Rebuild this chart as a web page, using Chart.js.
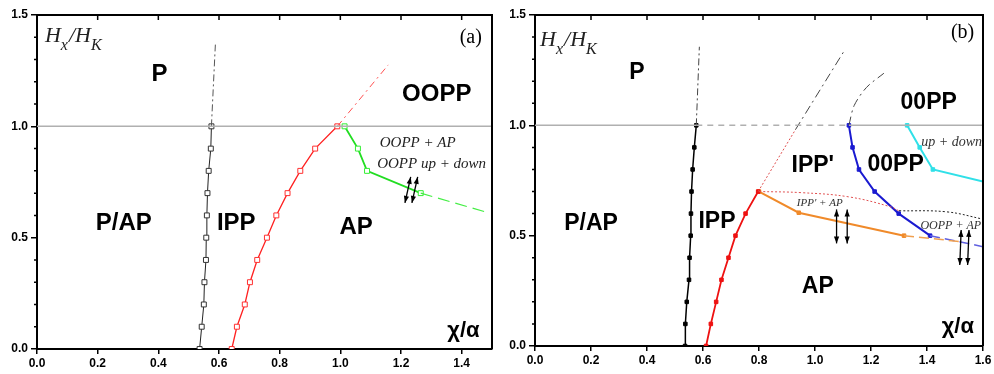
<!DOCTYPE html>
<html>
<head>
<meta charset="utf-8">
<script src="https://cdn.jsdelivr.net/npm/chart.js@4.4.1/dist/chart.umd.min.js"></script>
<style>
  body { margin: 0; background: #fff; }
  canvas { position: absolute; top: 0; }
</style>
</head>
<body>
<canvas id="chartA" width="497" height="374" style="left:0"></canvas>
<canvas id="chartB" width="497" height="374" style="left:497px"></canvas>
<script>
// tick labels
const xTicksA = [0, 0.2, 0.4, 0.6, 0.8, 1.0, 1.2, 1.4];
const xTicksB = [0, 0.2, 0.4, 0.6, 0.8, 1.0, 1.2, 1.4, 1.6];
const yTicks = [0, 0.5, 1.0, 1.5];

// field values H_x/H_K shared by the boundary lines
const hField = [0, 0.1, 0.2, 0.3, 0.4, 0.5, 0.6, 0.7, 0.8, 0.9, 1.0];

// panel (a)
const aBlackX = [0.536, 0.543, 0.550, 0.552, 0.557, 0.558, 0.560, 0.562, 0.566, 0.573, 0.575];
const aRedX = [0.642, 0.659, 0.685, 0.702, 0.726, 0.758, 0.789, 0.826, 0.868, 0.917, 0.990];
const aGreenX = [1.014, 1.058, 1.088, 1.265];
const aGreenY = [1.0, 0.9, 0.8, 0.7];
const aBlackExtX = [0.575, 0.588], aBlackExtY = [1.0, 1.367];
const aRedExtX = [0.990, 1.158], aRedExtY = [1.0, 1.276];
const aGreenExtX = [1.265, 1.48], aGreenExtY = [0.7, 0.615];
const aHorizX = [0, 1.5], aHorizY = [1, 1];

// panel (b)
const bBlackX = [0.536, 0.537, 0.542, 0.550, 0.552, 0.556, 0.557, 0.559, 0.563, 0.569, 0.576];
const bRedX = [0.611, 0.628, 0.647, 0.666, 0.691, 0.716, 0.752, 0.797];
const bRedY = [0, 0.1, 0.2, 0.3, 0.4, 0.5, 0.6, 0.7];
const bOrangeX = [0.80, 0.942, 1.318], bOrangeY = [0.7, 0.604, 0.5];
const bBlueX = [1.121, 1.134, 1.157, 1.213, 1.299, 1.411];
const bBlueY = [1.0, 0.9, 0.8, 0.7, 0.6, 0.5];
const bCyanX = [1.329, 1.374, 1.421, 1.6], bCyanY = [1.0, 0.9, 0.8, 0.745];
const bBlackExtX = [0.576, 0.587], bBlackExtY = [1.0, 1.356];
const bRedDotX = [0.797, 0.93], bRedDotY = [0.7, 0.98];
const bGrayUpX = [0.93, 1.106], bGrayUpY = [0.98, 1.341];
const bGrayUp2X = [1.121, 1.14, 1.184, 1.246], bGrayUp2Y = [1.0, 1.09, 1.172, 1.236];
const bRedCurveX = [0.80, 0.95, 1.12, 1.27, 1.30], bRedCurveY = [0.70, 0.695, 0.676, 0.631, 0.612];
const bBlackDotX = [1.30, 1.47, 1.60], bBlackDotY = [0.613, 0.608, 0.575];
const bOrangeDashX = [1.318, 1.52], bOrangeDashY = [0.5, 0.473];
const bBlueDashX = [1.411, 1.6], bBlueDashY = [0.5, 0.45];
const bHorizSolid1X = [0, 0.576], bHorizDashX = [0.576, 1.121], bHorizSolid2X = [1.121, 1.6];
const bHorizY = [1, 1];

const pts = (xs, ys) => xs.map((x, i) => ({ x, y: ys[i] }));

const SANS = "'Liberation Sans', Arial, sans-serif";
const SERIF = "'Liberation Serif', 'Times New Roman', serif";
Chart.defaults.font.family = SANS;

function line(data, color, width, dash, extra) {
  return Object.assign({
    data, borderColor: color, borderWidth: width, borderDash: dash || [],
    showLine: true, pointRadius: 0, fill: false, tension: 0
  }, extra || {});
}

function drawMathLabel(ctx, x, y, size) {
  // H_x / H_K
  const parts = [
    ["H", "italic " + size + "px " + SERIF, 0],
    ["x", "italic " + Math.round(size * 0.72) + "px " + SERIF, size * 0.38],
    ["/H", "italic " + size + "px " + SERIF, 0],
    ["K", "italic " + Math.round(size * 0.72) + "px " + SERIF, size * 0.38]
  ];
  ctx.textAlign = "left";
  ctx.textBaseline = "alphabetic";
  let cx = x;
  parts.forEach(([t, f, dy]) => {
    ctx.font = f;
    ctx.fillText(t, cx, y + dy);
    cx += ctx.measureText(t).width + (t === "x" ? 1 : 0);
  });
}

function arrow(ctx, x1, y1, x2, y2) {
  const ang = Math.atan2(y2 - y1, x2 - x1);
  const head = (px, py, a) => {
    ctx.beginPath();
    ctx.moveTo(px, py);
    ctx.lineTo(px - 7 * Math.cos(a) + 2.6 * Math.sin(a), py - 7 * Math.sin(a) - 2.6 * Math.cos(a));
    ctx.lineTo(px - 7 * Math.cos(a) - 2.6 * Math.sin(a), py - 7 * Math.sin(a) + 2.6 * Math.cos(a));
    ctx.closePath();
    ctx.fill();
  };
  ctx.beginPath();
  ctx.moveTo(x1, y1);
  ctx.lineTo(x2, y2);
  ctx.stroke();
  head(x2, y2, ang);
  head(x1, y1, ang + Math.PI);
}

const decor = {
  id: "decor",
  afterDatasetsDraw(chart, args, opts) {
    const { ctx, chartArea: a, scales: { x, y } } = chart;
    ctx.save();
    ctx.strokeStyle = "#000";
    ctx.fillStyle = "#000";
    // frame
    ctx.lineWidth = 2;
    ctx.beginPath();
    ctx.moveTo(a.left, a.top);
    ctx.lineTo(a.right, a.top);
    ctx.lineTo(a.right, a.bottom);
    ctx.stroke();
    // inward ticks on top
    ctx.lineWidth = 1.5;
    ctx.beginPath();
    x.ticks.forEach(t => {
      const px = x.getPixelForValue(t.value);
      if (px > a.left + 2 && px < a.right - 2) {
        ctx.moveTo(px, a.top);
        ctx.lineTo(px, a.top + 5);
      }
    });
    // minor ticks on y
    for (let i = 1; i < 15; i++) {
      if (i % 5 === 0) continue;
      const py = y.getPixelForValue(i / 10);
      ctx.moveTo(a.left - 3, py);
      ctx.lineTo(a.left, py);
    }
    ctx.stroke();

    // text labels
    (opts.labels || []).forEach(l => {
      ctx.font = l.font;
      ctx.fillStyle = l.color || "#000";
      ctx.textAlign = "center";
      ctx.textBaseline = "middle";
      ctx.fillText(l.text, x.getPixelForValue(l.x), y.getPixelForValue(l.y));
    });
    ctx.fillStyle = "#222";
    if (opts.math) {
      drawMathLabel(ctx, x.getPixelForValue(opts.math.x), y.getPixelForValue(opts.math.y), 22);
    }
    ctx.fillStyle = "#000";
    // arrows
    ctx.lineWidth = 1.3;
    (opts.arrows || []).forEach(r => {
      arrow(ctx, x.getPixelForValue(r[0]), y.getPixelForValue(r[1]),
        x.getPixelForValue(r[2]), y.getPixelForValue(r[3]));
    });
    ctx.restore();
  }
};

function options(xMax, xTicks, yWidth, xHeight, padRight, padTop, decorOpts) {
  return {
    responsive: false,
    animation: false,
    layout: { padding: { left: 0, right: padRight, top: padTop, bottom: 0 } },
    plugins: { legend: { display: false }, tooltip: { enabled: false }, decor: decorOpts },
    scales: {
      x: {
        type: "linear", min: 0, max: xMax,
        afterBuildTicks: s => { s.ticks = xTicks.map(v => ({ value: v })); },
        afterFit: s => { s.height = xHeight; },
        ticks: { color: "#000", padding: 2, font: { size: 12, weight: "bold" },
          callback: v => v.toFixed(1), maxRotation: 0, autoSkip: false },
        grid: { drawOnChartArea: false, color: "#000", lineWidth: 1.5, tickLength: 5 },
        border: { color: "#000", width: 2 }
      },
      y: {
        type: "linear", min: 0, max: 1.5,
        afterBuildTicks: s => { s.ticks = yTicks.map(v => ({ value: v })); },
        afterFit: s => { s.width = yWidth; },
        ticks: { color: "#000", padding: 3, font: { size: 12, weight: "bold" },
          callback: v => v.toFixed(1) },
        grid: { drawOnChartArea: false, color: "#000", lineWidth: 1.5, tickLength: 6 },
        border: { color: "#000", width: 2 }
      }
    }
  };
}

const big = "bold 24px " + SANS;
const bigB = "bold 23px " + SANS;

new Chart(document.getElementById("chartA"), {
  type: "scatter",
  data: {
    datasets: [
      line(pts(aHorizX, aHorizY), "#b0b0b0", 1.5),
      line(pts(aBlackExtX, aBlackExtY), "#555", 1, [7, 3, 2, 3]),
      line(pts(aRedExtX, aRedExtY), "#ff5050", 1, [7, 4, 2, 4]),
      line(pts(aGreenExtX, aGreenExtY), "#44ee44", 1.2, [12, 6]),
      line(pts(aBlackX, hField), "#222", 1, null,
        { pointRadius: 3.5, pointStyle: "rect", pointBackgroundColor: "#fff", pointBorderColor: "#333", pointBorderWidth: 1 }),
      line(pts(aRedX, hField), "#ff2020", 1.3, null,
        { pointRadius: 3.5, pointStyle: "rect", pointBackgroundColor: "#fff", pointBorderColor: "#ff3030", pointBorderWidth: 1 }),
      line(pts(aGreenX, aGreenY), "#22dd22", 1.8, null,
        { pointRadius: 3.5, pointStyle: "rect", pointBackgroundColor: "#fff", pointBorderColor: "#33ee33", pointBorderWidth: 1 })
    ]
  },
  options: options(1.5, xTicksA, 37, 25, 4, 15, {
    labels: [
      { text: "P", x: 0.404, y: 1.232, font: big },
      { text: "OOPP", x: 1.318, y: 1.142, font: big },
      { text: "P/AP", x: 0.286, y: 0.562, font: big },
      { text: "IPP", x: 0.657, y: 0.562, font: big },
      { text: "AP", x: 1.052, y: 0.544, font: big },
      { text: "OOPP + AP", x: 1.255, y: 0.926, font: "italic 15px " + SERIF, color: "#222" },
      { text: "OOPP up + down", x: 1.301, y: 0.832, font: "italic 15px " + SERIF, color: "#222" },
      { text: "(a)", x: 1.43, y: 1.398, font: "20px " + SERIF },
      { text: "\u03c7/\u03b1", x: 1.406, y: 0.081, font: "bold 22px " + SANS }
    ],
    math: { x: 0.026, y: 1.38 },
    arrows: [
      [1.213, 0.656, 1.232, 0.773],
      [1.236, 0.656, 1.255, 0.773]
    ]
  }),
  plugins: [decor]
});

const sq = (c) => ({ pointRadius: 2.5, pointStyle: "rect", pointBackgroundColor: c, pointBorderColor: c, pointBorderWidth: 1 });

new Chart(document.getElementById("chartB"), {
  type: "scatter",
  data: {
    datasets: [
      line(pts(bHorizSolid1X, bHorizY), "#b0b0b0", 1.5),
      line(pts(bHorizDashX, bHorizY), "#b0b0b0", 1.5, [6, 5]),
      line(pts(bHorizSolid2X, bHorizY), "#b0b0b0", 1.5),
      line(pts(bBlackExtX, bBlackExtY), "#444", 1, [7, 3, 2, 3]),
      line(pts(bRedDotX, bRedDotY), "#e05050", 1, [2, 2]),
      line(pts(bGrayUpX, bGrayUpY), "#444", 1, [9, 4, 2, 4]),
      line(pts(bGrayUp2X, bGrayUp2Y), "#444", 1, [9, 4, 2, 4], { tension: 0.3 }),
      line(pts(bRedCurveX, bRedCurveY), "#e05050", 1, [2, 2], { tension: 0.4 }),
      line(pts(bBlackDotX, bBlackDotY), "#222", 1, [2, 2], { tension: 0.4 }),
      line(pts(bOrangeDashX, bOrangeDashY), "#f0a050", 1.5, [10, 5]),
      line(pts(bBlueDashX, bBlueDashY), "#6060e0", 1.5, [10, 5]),
      line(pts(bBlackX, hField), "#000", 1.5, null, sq("#000")),
      line(pts(bRedX, bRedY), "#ee1111", 1.8, null, sq("#ee1111")),
      line(pts(bOrangeX, bOrangeY), "#f08a2a", 2, null, sq("#f08a2a")),
      line(pts(bBlueX, bBlueY), "#1a1ad0", 2, null, sq("#1a1ad0")),
      line(pts(bCyanX, bCyanY), "#30e0e8", 2, null,
        Object.assign(sq("#30e0e8"), { pointRadius: [2.5, 2.5, 2.5, 0] }))
    ]
  },
  options: options(1.6, xTicksB, 38, 28, 11, 15, {
    labels: [
      { text: "P", x: 0.364, y: 1.237, font: bigB },
      { text: "00PP", x: 1.406, y: 1.101, font: bigB },
      { text: "IPP'", x: 0.992, y: 0.816, font: bigB },
      { text: "00PP", x: 1.288, y: 0.82, font: bigB },
      { text: "P/AP", x: 0.20, y: 0.553, font: bigB },
      { text: "IPP", x: 0.65, y: 0.562, font: bigB },
      { text: "AP", x: 1.01, y: 0.267, font: bigB },
      { text: "up + down", x: 1.488, y: 0.924, font: "italic 14px " + SERIF, color: "#333" },
      { text: "IPP' + AP", x: 1.017, y: 0.648, font: "italic 11px " + SERIF, color: "#333" },
      { text: "OOPP + AP", x: 1.485, y: 0.544, font: "italic 12px " + SERIF, color: "#333" },
      { text: "(b)", x: 1.527, y: 1.418, font: "20px " + SERIF },
      { text: "\u03c7/\u03b1", x: 1.51, y: 0.086, font: "bold 22px " + SANS }
    ],
    math: { x: 0.018, y: 1.36 },
    arrows: [
      [1.077, 0.465, 1.077, 0.619],
      [1.115, 0.465, 1.115, 0.619],
      [1.517, 0.367, 1.522, 0.526],
      [1.545, 0.367, 1.550, 0.526]
    ]
  }),
  plugins: [decor]
});
</script>
</body>
</html>
